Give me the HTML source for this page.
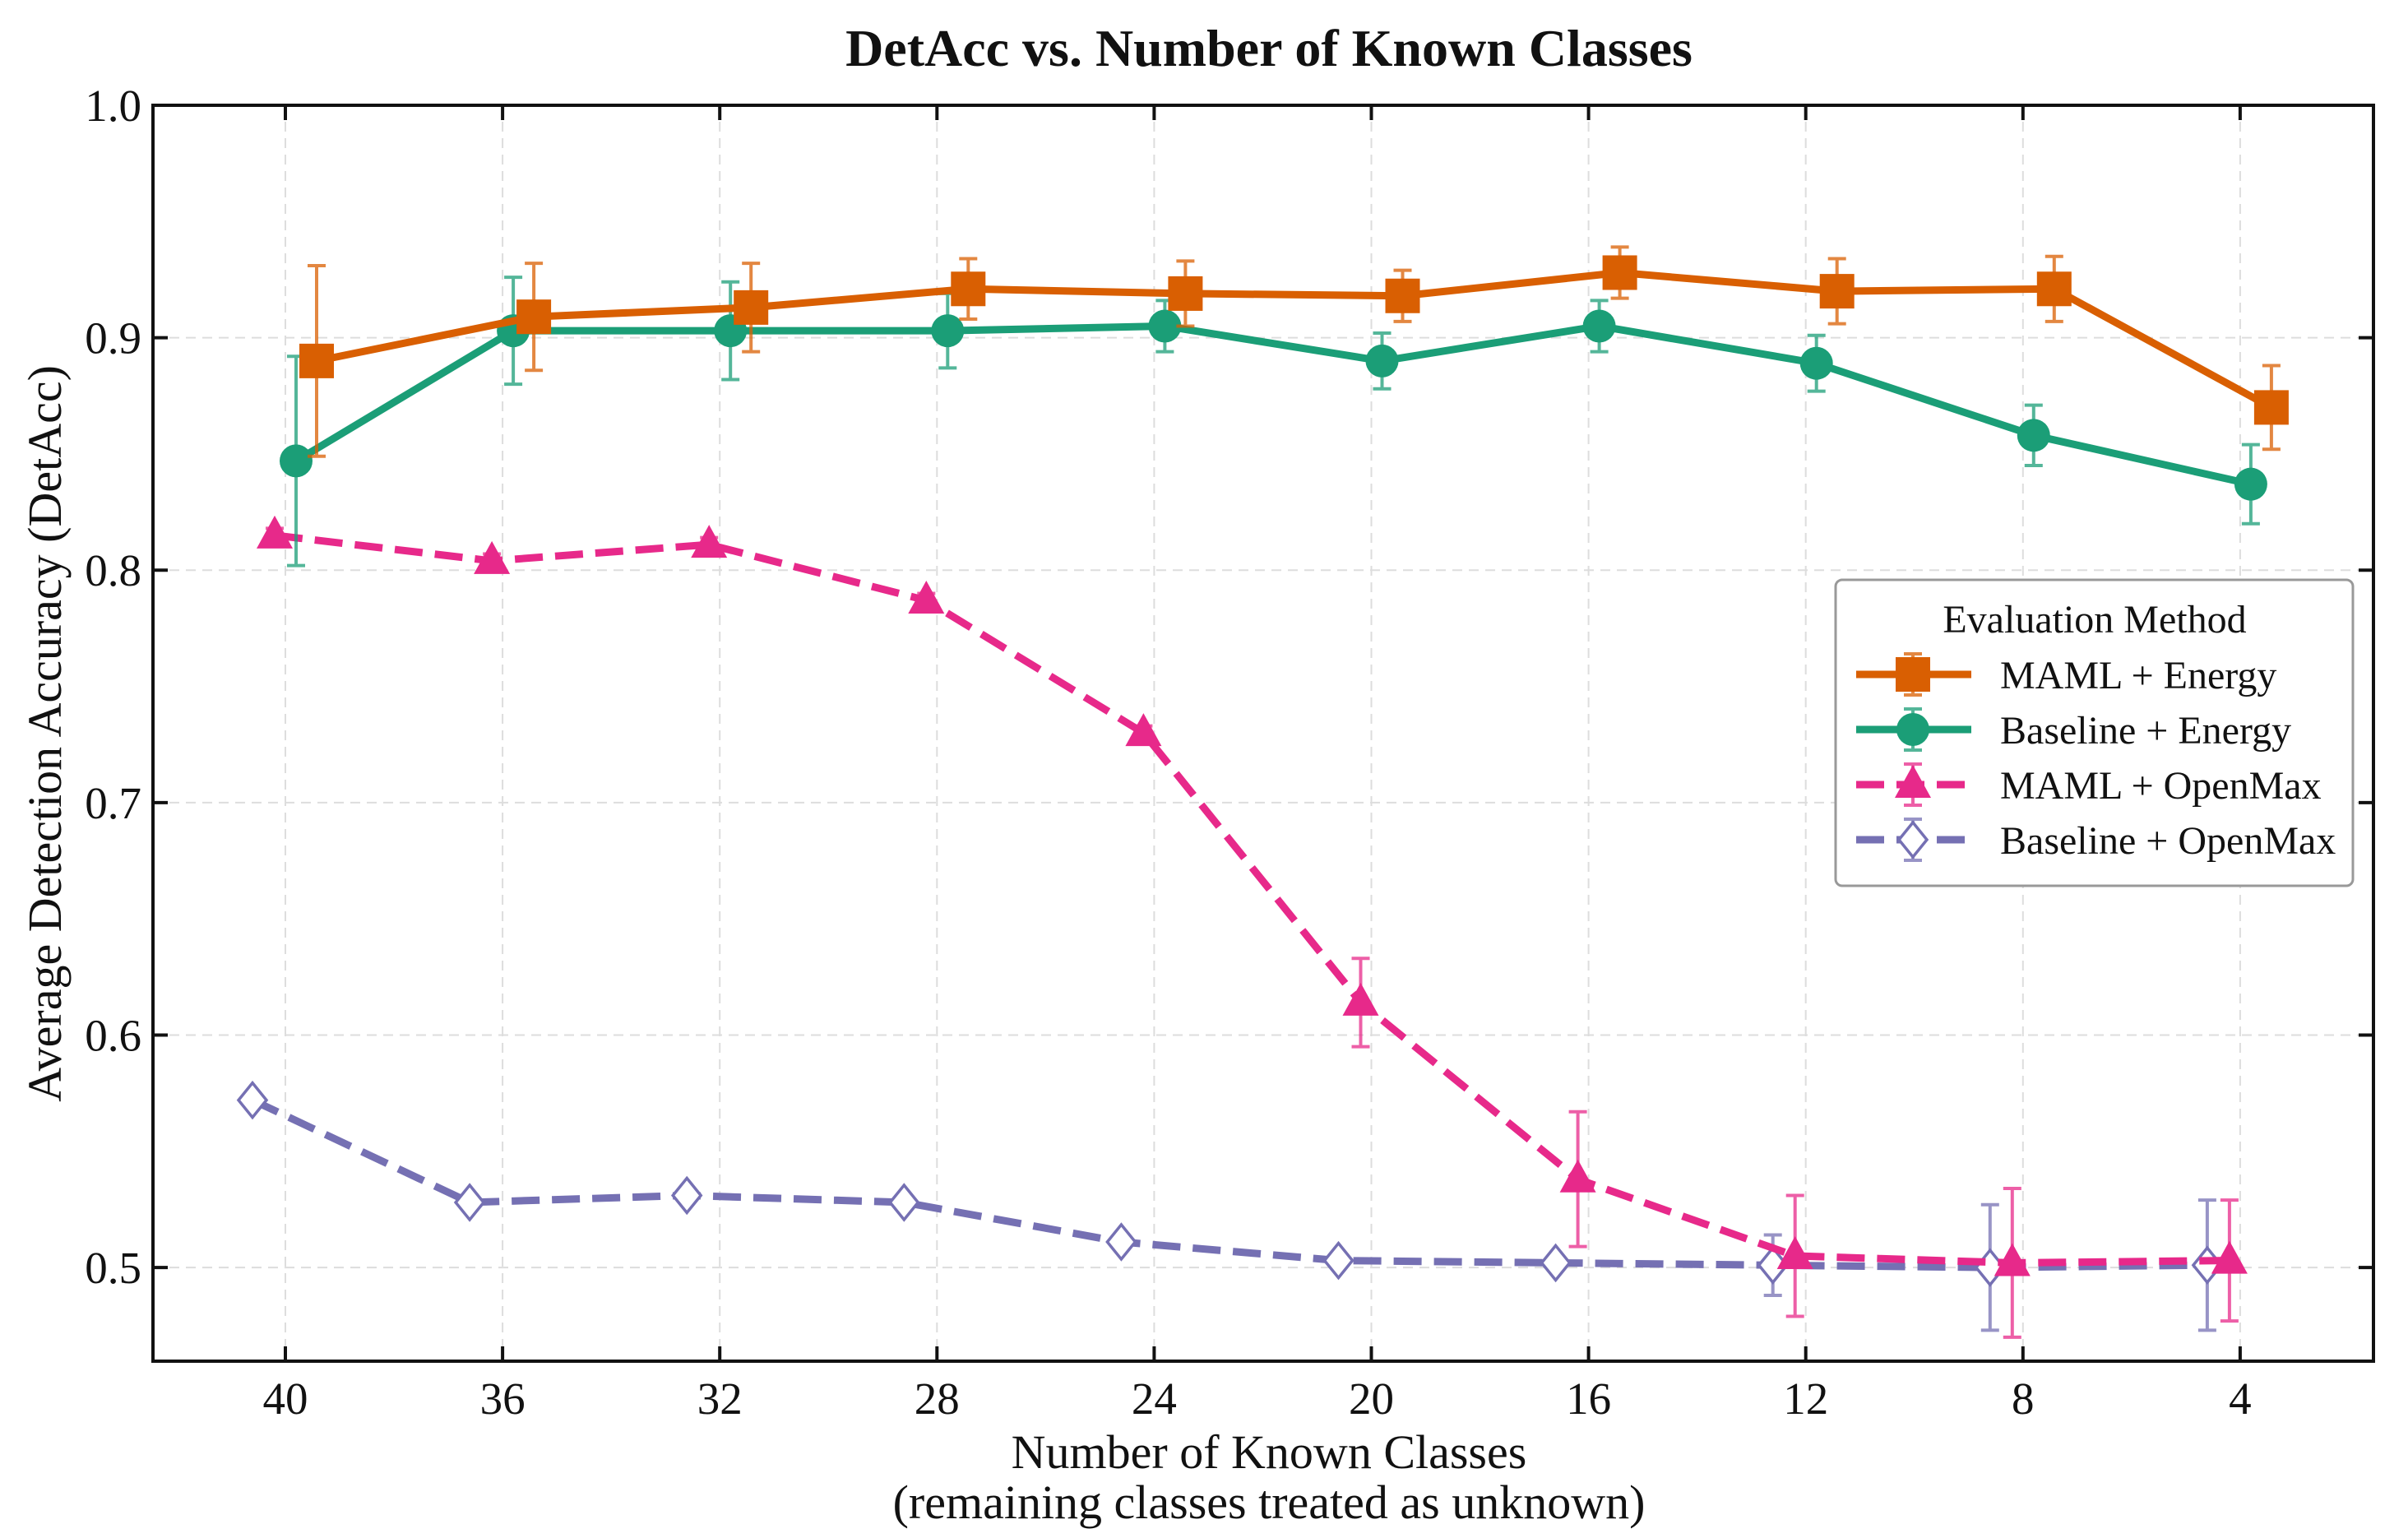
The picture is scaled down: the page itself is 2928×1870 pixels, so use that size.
<!DOCTYPE html>
<html><head><meta charset="utf-8"><style>
html,body{margin:0;padding:0;background:#fff;}
svg{display:block;}
text{font-family:"Liberation Serif",serif;fill:#111;}
</style></head><body>
<svg id="chart" width="2928" height="1870" viewBox="0 0 2928 1870" xmlns="http://www.w3.org/2000/svg">
<rect x="0" y="0" width="2928" height="1870" fill="#fff"/>
<text x="1543" y="80" font-size="64" font-weight="bold" text-anchor="middle">DetAcc vs. Number of Known Classes</text>
<g id="grid"></g>
<g id="series"></g>
<rect x="186" y="128" width="2700" height="1527" fill="none" stroke="#111" stroke-width="4"/>
<g id="axes"></g>
<text transform="translate(74,892) rotate(-90)" font-size="58" text-anchor="middle">Average Detection Accuracy (DetAcc)</text>
<text x="1543" y="1785" font-size="58" text-anchor="middle">Number of Known Classes</text>
<text x="1543" y="1846" font-size="58" text-anchor="middle">(remaining classes treated as unknown)</text>
<g id="legend">
<rect x="2232" y="705" width="629" height="372" rx="8" fill="#fff" stroke="#999" stroke-width="3"/>
<text x="2547" y="769" font-size="48" text-anchor="middle">Evaluation Method</text>
</g>
</svg>
<script>
const categories = [40, 36, 32, 28, 24, 20, 16, 12, 8, 4];
const yTicks = [0.5, 0.6, 0.7, 0.8, 0.9, 1.0];
const yTickLabels = ["0.5", "0.6", "0.7", "0.8", "0.9", "1.0"];
const seriesNames = ["MAML + Energy", "Baseline + Energy", "MAML + OpenMax", "Baseline + OpenMax"];
const mamlEnergy = [0.890, 0.909, 0.913, 0.921, 0.919, 0.918, 0.928, 0.920, 0.921, 0.870];
const mamlEnergyErr = [0.041, 0.023, 0.019, 0.013, 0.014, 0.011, 0.011, 0.014, 0.014, 0.018];
const baseEnergy = [0.847, 0.903, 0.903, 0.903, 0.905, 0.890, 0.905, 0.889, 0.858, 0.837];
const baseEnergyErr = [0.045, 0.023, 0.021, 0.016, 0.011, 0.012, 0.011, 0.012, 0.013, 0.017];
const mamlOpen = [0.815, 0.804, 0.811, 0.787, 0.730, 0.614, 0.538, 0.505, 0.502, 0.503];
const mamlOpenErr = [0.003, 0.003, 0.003, 0.003, 0.003, 0.019, 0.029, 0.026, 0.032, 0.026];
const baseOpen = [0.572, 0.528, 0.531, 0.528, 0.511, 0.503, 0.502, 0.501, 0.500, 0.501];
const baseOpenErr = [0.002, 0.002, 0.002, 0.002, 0.002, 0.002, 0.002, 0.013, 0.027, 0.028];

const NS = "http://www.w3.org/2000/svg";
const L = 186, R = 2886, T = 128, B = 1655;
const yMin = 0.4597, yMax = 1.0;
function xPos(c) { return 347 + (40 - c) / 4 * 264.1; }
function yPos(v) { return B - (v - yMin) / (yMax - yMin) * (B - T); }
function mk(tag, attrs, parent) {
  const e = document.createElementNS(NS, tag);
  for (const k in attrs) e.setAttribute(k, attrs[k]);
  parent.appendChild(e);
  return e;
}
const grid = document.getElementById('grid');
const axes = document.getElementById('axes');
const seriesG = document.getElementById('series');

categories.forEach((c, i) => {
  const x = xPos(c);
  const g = mk('line', {x1: x, x2: x, y1: T, y2: B, stroke: '#ddd', 'stroke-width': 2, 'stroke-dasharray': '12 8'}, grid);
  
  
  const t1 = mk('line', {x1: x, x2: x, y1: B, y2: B - 18, stroke: '#111', 'stroke-width': 4}, axes);
  
  
  const t2 = mk('line', {x1: x, x2: x, y1: T, y2: T + 18, stroke: '#111', 'stroke-width': 4}, axes);
  
  
  const lab = mk('text', {x: x, y: 1719, 'font-size': 55, 'text-anchor': 'middle'}, axes);
  lab.textContent = String(c);
  
  
});
yTicks.forEach((v, i) => {
  const y = yPos(v);
  if (v < 1.0) {
    const g = mk('line', {x1: L, x2: R, y1: y, y2: y, stroke: '#ddd', 'stroke-width': 2, 'stroke-dasharray': '12 8'}, grid);
    
    
  }
  const t1 = mk('line', {x1: L, x2: L + 18, y1: y, y2: y, stroke: '#111', 'stroke-width': 4}, axes);
  
  
  const t2 = mk('line', {x1: R, x2: R - 18, y1: y, y2: y, stroke: '#111', 'stroke-width': 4}, axes);
  
  
  const lab = mk('text', {x: 172, y: y + 19, 'font-size': 55, 'text-anchor': 'end'}, axes);
  lab.textContent = yTickLabels[i];
  
  
});

function drawMarker(shape, cx, cy, color, parent) {
  let m;
  if (shape === 'square') m = mk('rect', {x: cx - 21, y: cy - 21, width: 42, height: 42, fill: color}, parent);
  else if (shape === 'circle') m = mk('circle', {cx: cx, cy: cy, r: 20, fill: color}, parent);
  else if (shape === 'triangle') m = mk('polygon', {points: `${cx},${cy - 24} ${cx + 22},${cy + 16} ${cx - 22},${cy + 16}`, fill: color}, parent);
  else m = mk('polygon', {points: `${cx},${cy - 21} ${cx + 17},${cy} ${cx},${cy + 21} ${cx - 17},${cy}`, fill: '#fff', stroke: color, 'stroke-width': 3.5}, parent);
  return m;
}
const defs = [
  {name: 'maml-energy', vals: mamlEnergy, errs: mamlEnergyErr, color: '#d95f02', off: 38, shape: 'square', dash: null},
  {name: 'baseline-energy', vals: baseEnergy, errs: baseEnergyErr, color: '#1b9e77', off: 13, shape: 'circle', dash: null},
  {name: 'maml-openmax', vals: mamlOpen, errs: mamlOpenErr, color: '#e7298a', off: -13, shape: 'triangle', dash: '34 15'},
  {name: 'baseline-openmax', vals: baseOpen, errs: baseOpenErr, color: '#7570b3', off: -40, shape: 'diamond', dash: '34 15'}
];
const order = [3, 2, 1, 0];
order.forEach(si => {
  const s = defs[si];
  const g = mk('g', {}, seriesG);
  
  
  const pts = s.vals.map((v, i) => `${xPos(categories[i]) + s.off},${yPos(v)}`).join(' ');
  const line = mk('polyline', {points: pts, fill: 'none', stroke: s.color, 'stroke-width': 9, 'stroke-linejoin': 'round'}, g);
  if (s.dash) line.setAttribute('stroke-dasharray', s.dash);
  
  
  s.vals.forEach((v, i) => {
    const x = xPos(categories[i]) + s.off;
    const y1 = yPos(v + s.errs[i]), y2 = yPos(v - s.errs[i]);
    const eb = mk('path', {d: `M${x},${y1}V${y2}M${x - 11},${y1}H${x + 11}M${x - 11},${y2}H${x + 11}`, stroke: s.color, 'stroke-width': 4, 'stroke-opacity': 0.75, fill: 'none'}, g);
    
    
    const m = drawMarker(s.shape, x, yPos(v), s.color, g);
    
    
  });
});

const legend = document.getElementById('legend');
const legY = [820, 887, 954, 1021];
defs.forEach((s, i) => {
  const y = legY[i];
  const g = mk('g', {}, legend);
  
  
  const ln = mk('line', {x1: 2257, x2: 2397, y1: y, y2: y, stroke: s.color, 'stroke-width': 9}, g);
  if (s.dash) ln.setAttribute('stroke-dasharray', '34 15');
  const eb = mk('path', {d: `M2326,${y - 25}V${y + 25}M2315,${y - 25}H2337M2315,${y + 25}H2337`, stroke: s.color, 'stroke-width': 4, 'stroke-opacity': 0.75, fill: 'none'}, g);
  drawMarker(s.shape, 2326, y, s.color, g);
  const t = mk('text', {x: 2432, y: y + 17, 'font-size': 48}, g);
  t.textContent = seriesNames[i];
});
</script>
</body></html>
